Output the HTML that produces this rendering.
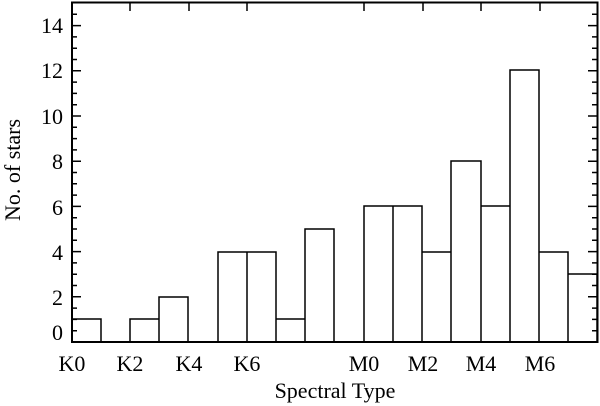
<!DOCTYPE html>
<html><head><style>body{margin:0;background:#fff}svg{display:block}</style></head><body>
<svg width="600" height="406" xmlns="http://www.w3.org/2000/svg" font-family="Liberation Serif, serif" font-size="22" fill="#000">
<g fill="none" stroke="#000" stroke-width="1.5">
<path d="M72,342 V319 H101 V342 M130,342 V319 H159 V342 M159,342 V297 H188 V342 M218,342 V252 H247 V342 M247,342 V252 H276 V342 M276,342 V319 H305 V342 M305,342 V229 H334 V342 M364,342 V206 H393 V342 M393,342 V206 H422 V342 M422,342 V252 H451 V342 M451,342 V161 H481 V342 M481,342 V206 H510 V342 M510,342 V70 H539 V342 M539,342 V252 H568 V342 M568,342 V274 H597 V342"/>
<rect x="72" y="2.5" width="525.5" height="339.5" stroke-width="2"/>
<path d="M72,330.7h5M72,319.4h5M72,308.1h5M72,296.8h9M72,285.5h5M72,274.2h5M72,262.9h5M72,251.6h9M72,240.3h5M72,229h5M72,217.7h5M72,206.4h9M72,195.1h5M72,183.8h5M72,172.5h5M72,161.2h9M72,149.9h5M72,138.6h5M72,127.3h5M72,116h9M72,104.7h5M72,93.4h5M72,82.1h5M72,70.8h9M72,59.5h5M72,48.2h5M72,36.9h5M72,25.6h9M72,14.3h5"/>
<path d="M597,330.7h-5M597,319.4h-5M597,308.1h-5M597,296.8h-9M597,285.5h-5M597,274.2h-5M597,262.9h-5M597,251.6h-9M597,240.3h-5M597,229h-5M597,217.7h-5M597,206.4h-9M597,195.1h-5M597,183.8h-5M597,172.5h-5M597,161.2h-9M597,149.9h-5M597,138.6h-5M597,127.3h-5M597,116h-9M597,104.7h-5M597,93.4h-5M597,82.1h-5M597,70.8h-9M597,59.5h-5M597,48.2h-5M597,36.9h-5M597,25.6h-9M597,14.3h-5"/>
<path d="M130,2v9M189,2v9M247,2v9M364,2v9M423,2v9M481,2v9M540,2v9"/>
</g>
<g text-anchor="end">
<text x="63" y="340">0</text><text x="63" y="305">2</text><text x="63" y="260">4</text><text x="63" y="215">6</text><text x="63" y="169">8</text><text x="63" y="124">10</text><text x="63" y="78">12</text><text x="63" y="33">14</text>
</g>
<g text-anchor="middle">
<text x="72" y="371">K0</text><text x="130" y="371">K2</text><text x="189" y="371">K4</text><text x="247" y="371">K6</text>
<text x="364" y="371">M0</text><text x="423" y="371">M2</text><text x="481" y="371">M4</text><text x="540" y="371">M6</text>
<text x="335" y="398">Spectral Type</text>
<text transform="translate(20,170) rotate(-90)">No. of stars</text>
</g>
</svg>
</body></html>
